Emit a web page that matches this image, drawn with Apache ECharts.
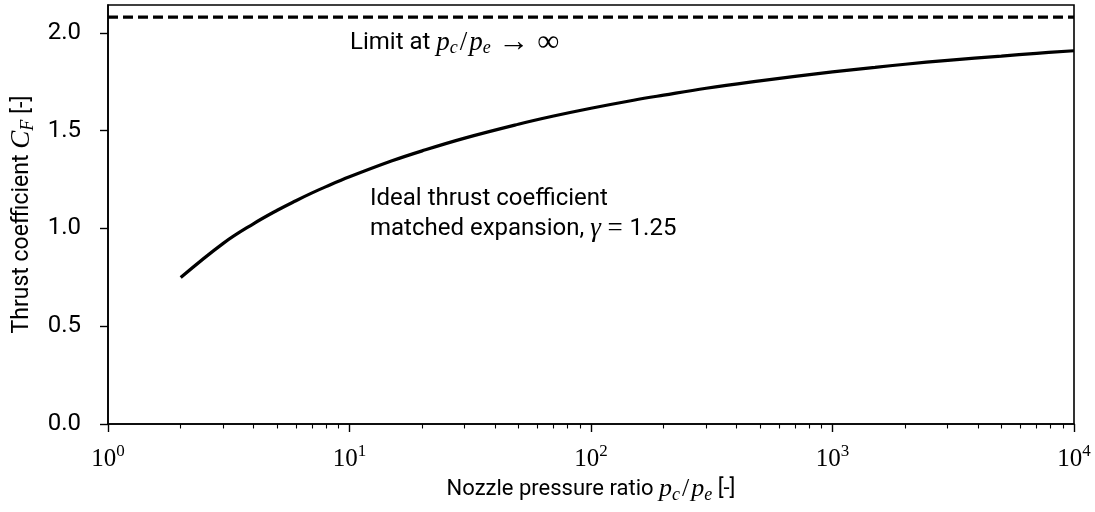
<!DOCTYPE html>
<html>
<head>
<meta charset="utf-8">
<script src="https://cdn.jsdelivr.net/npm/echarts@6/dist/echarts.min.js"></script>
<style>html,body{margin:0;padding:0;background:#fff}#c{width:1095px;height:512px}</style>
</head>
<body>
<div id="c"></div>
<script>
// Data
var pressureRatio = [2, 3, 4, 5, 6, 7, 8, 10, 15, 20, 30, 50, 70, 100, 150, 200, 300, 500, 700, 1000, 1500, 2000, 3000, 5000, 7000, 10000];
var thrustCoeff   = [0.749, 0.924, 1.024, 1.092, 1.142, 1.182, 1.214, 1.264, 1.346, 1.397, 1.462, 1.533, 1.575, 1.615, 1.656, 1.682, 1.717, 1.755, 1.778, 1.801, 1.824, 1.840, 1.860, 1.882, 1.896, 1.909];
var limitX = [1, 10000];
var limitValue = 2.081;
var yTicks = [0, 0.5, 1.0, 1.5, 2.0];
var xMajorTicks = [1, 10, 100, 1000, 10000];
var xMinorTicks = [2,3,4,5,6,7,8,9,20,30,40,50,60,70,80,90,200,300,400,500,600,700,800,900,2000,3000,4000,5000,6000,7000,8000,9000];

var SANS = 'Roboto, "DejaVu Sans", sans-serif';
var SERIF = '"Liberation Serif", "DejaVu Serif", serif';

function makeRich(textSize, mathSize, subSize) {
  return {
    t: {fontFamily: SANS, fontSize: textSize, color: '#000', lineHeight: 30},
    m: {fontFamily: SERIF, fontStyle: 'italic', fontSize: mathSize, color: '#000', lineHeight: 30},
    r: {fontFamily: SERIF, fontSize: mathSize, color: '#000', lineHeight: 30},
    g: {fontFamily: SERIF, fontSize: mathSize, color: '#000', lineHeight: 30, padding: [0, 2, 0, 2]},
    a: {fontFamily: SERIF, fontSize: mathSize + 4, color: '#000', lineHeight: 30},
    s: {fontFamily: SERIF, fontStyle: 'italic', fontSize: subSize, color: '#000', lineHeight: 17, verticalAlign: 'bottom'}
  };
}

var chart = echarts.init(document.getElementById('c'), null, {renderer: 'canvas'});
var option = {
  animation: false,
  backgroundColor: '#fff',
  grid: {left: 108, right: 21, top: 5, bottom: 88, containLabel: false, outerBoundsMode: 'none',
         show: true, borderColor: '#000', borderWidth: 1.6, backgroundColor: 'transparent'},
  xAxis: [{
    type: 'log', logBase: 10, min: 1, max: 10000,
    axisLine: {show: true, lineStyle: {color: '#000', width: 1.6}},
    axisTick: {show: true, inside: false, length: 8, lineStyle: {color: '#000', width: 1.4}, customValues: xMajorTicks},
    axisLabel: {
      margin: 19, customValues: xMajorTicks,
      formatter: function (v) { return '{b|10}{p|' + Math.round(Math.log10(v)) + '}'; },
      rich: {
        b: {fontFamily: SERIF, fontSize: 25, color: '#000', lineHeight: 32},
        p: {fontFamily: SERIF, fontSize: 17, color: '#000', lineHeight: 17, verticalAlign: 'top'}
      }
    },
    splitLine: {show: false},
    minorTick: {show: false},
    name: '{t|Nozzle pressure ratio }{m|p}{s|c}{g|/}{m|p}{s|e}{t| [-]}',
    nameLocation: 'middle', nameGap: 47,
    nameTextStyle: {rich: makeRich(22, 26, 18)}
  }, {
    type: 'log', logBase: 10, min: 1, max: 10000, position: 'bottom',
    axisLine: {show: false},
    axisTick: {show: true, inside: false, length: 4.5, lineStyle: {color: '#000', width: 1.1}, customValues: xMinorTicks},
    axisLabel: {show: false},
    splitLine: {show: false}
  }],
  yAxis: {
    type: 'value', min: 0, max: 2.143, interval: 0.5,
    axisLine: {show: true, lineStyle: {color: '#000', width: 1.6}},
    axisTick: {show: true, inside: false, length: 8, lineStyle: {color: '#000', width: 1.4}, customValues: yTicks},
    axisLabel: {
      margin: 27, customValues: yTicks, color: '#000', fontFamily: SANS, fontSize: 24, align: 'right',
      formatter: function (v) { return v.toFixed(1); }
    },
    splitLine: {show: false},
    name: '{t|Thrust coefficient }{m|C}{s|F}{t| [-]}',
    nameLocation: 'middle', nameGap: 71, nameRotate: 90,
    nameTextStyle: {rich: makeRich(23, 27, 18)}
  },
  series: [{
    type: 'line', xAxisIndex: 0, showSymbol: false, symbol: 'none', smooth: 0.4,
    data: pressureRatio.map(function (p, i) { return [p, thrustCoeff[i]]; }),
    lineStyle: {color: '#000', width: 3.2}
  }, {
    type: 'line', xAxisIndex: 0, showSymbol: false, symbol: 'none',
    data: limitX.map(function (p) { return [p, limitValue]; }),
    lineStyle: {color: '#000', width: 3.2, type: [10, 5]}
  }],
  graphic: [{
    type: 'text', left: 350, top: 27,
    style: {
      text: '{t|Limit at }{m|p}{s|c}{g|/}{m|p}{s|e}{a| → ∞}',
      rich: makeRich(24, 27, 18)
    }
  }, {
    type: 'text', left: 370, top: 187,
    style: {
      text: '{t|Ideal thrust coefficient}\n{t|matched expansion, }{m|γ}{r| = }{t|1.25}',
      rich: makeRich(24, 27, 18)
    }
  }]
};
chart.setOption(option);
</script>
</body>
</html>
